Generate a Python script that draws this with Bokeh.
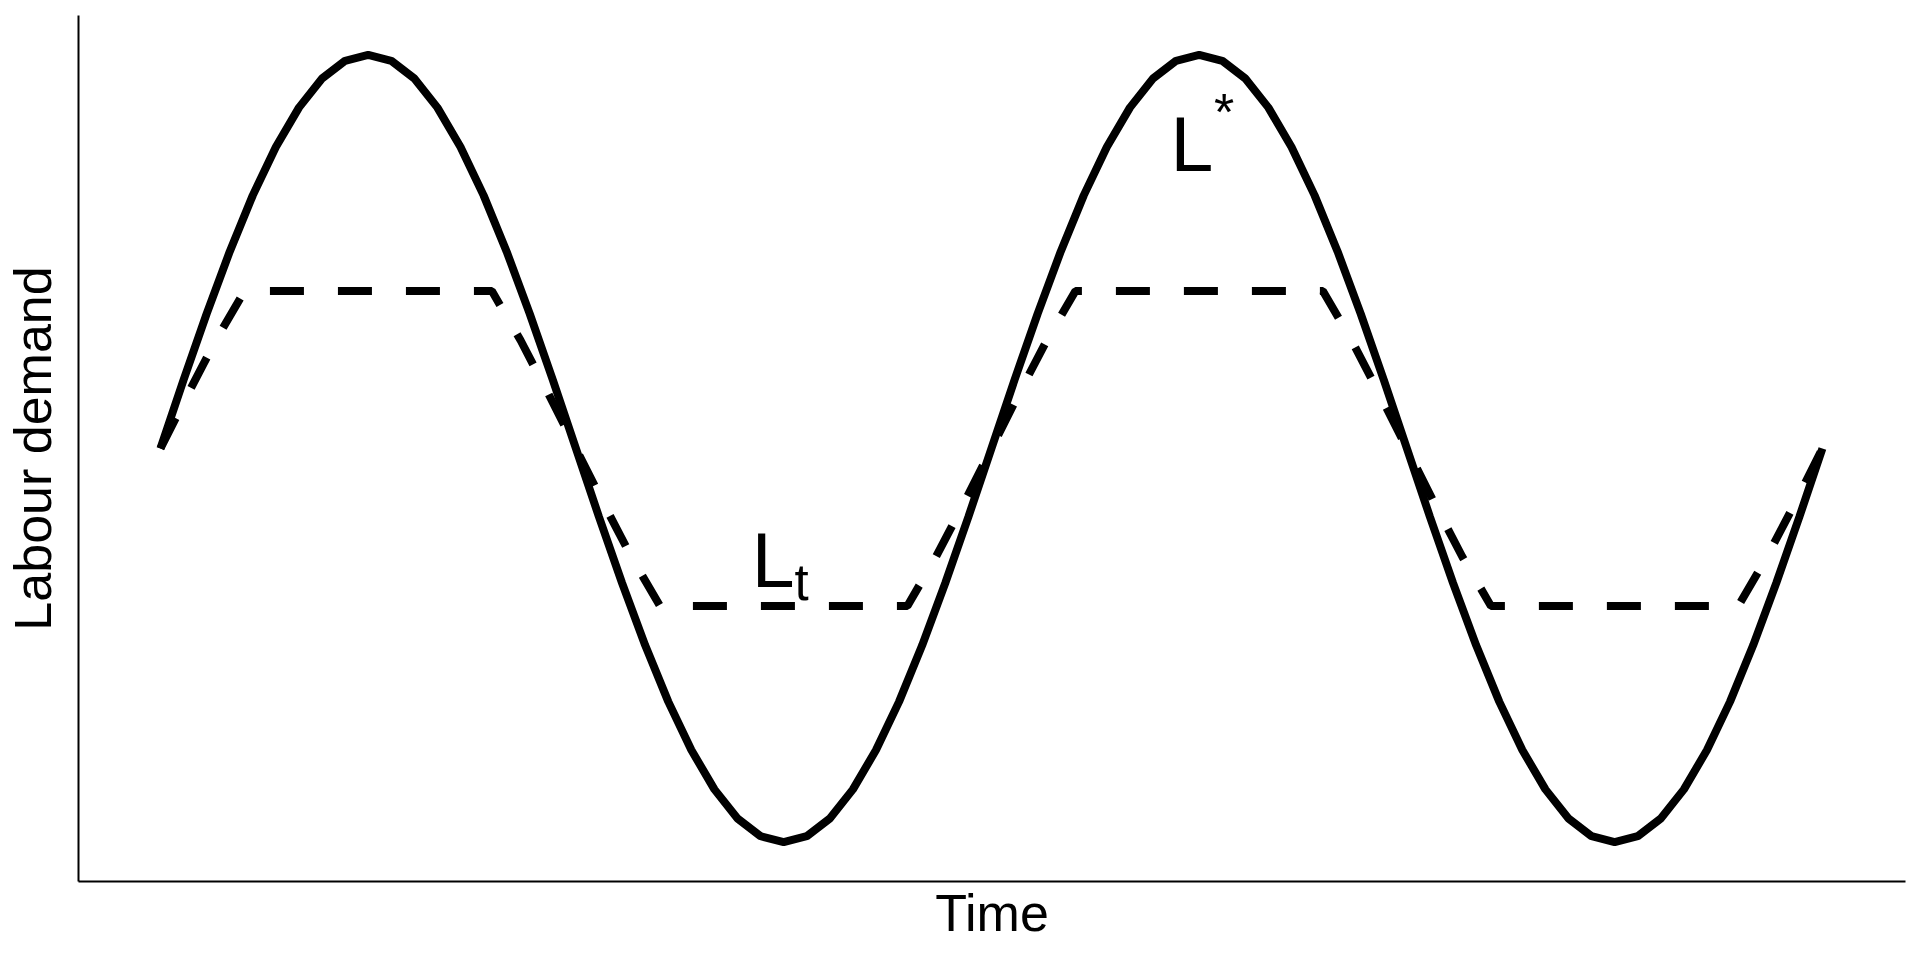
from bokeh.plotting import figure
from bokeh.embed import file_html
from bokeh.resources import INLINE
from bokeh.models import FixedTicker, Range1d
from bokeh.core.properties import value

# ---- data (time in degrees of the cycle, demand normalised) ----
time_solid = list(range(0, 721, 10))
lstar_vals = [
    0.0, 0.174, 0.342, 0.5, 0.643, 0.766, 0.866, 0.940, 0.985, 1.0,
    0.985, 0.940, 0.866, 0.766, 0.643, 0.5, 0.342, 0.174, 0.0,
    -0.174, -0.342, -0.5, -0.643, -0.766, -0.866, -0.940, -0.985, -1.0,
    -0.985, -0.940, -0.866, -0.766, -0.643, -0.5, -0.342, -0.174, 0.0,
    0.174, 0.342, 0.5, 0.643, 0.766, 0.866, 0.940, 0.985, 1.0,
    0.985, 0.940, 0.866, 0.766, 0.643, 0.5, 0.342, 0.174, 0.0,
    -0.174, -0.342, -0.5, -0.643, -0.766, -0.866, -0.940, -0.985, -1.0,
    -0.985, -0.940, -0.866, -0.766, -0.643, -0.5, -0.342, -0.174, 0.0,
]
time_dashed = [0, 12, 24, 36.4, 143.6, 156, 168, 180, 192, 204, 216.4, 323.6, 336, 348,
               360, 372, 384, 396.4, 503.6, 516, 528, 540, 552, 564, 576.4, 683.6, 696, 708, 720]
lt_vals = [0, 0.14, 0.275, 0.40, 0.40, 0.275, 0.14, 0, -0.14, -0.275, -0.40, -0.40, -0.275, -0.14,
           0, 0.14, 0.275, 0.40, 0.40, 0.275, 0.14, 0, -0.14, -0.275, -0.40, -0.40, -0.275, -0.14, 0]

x_label = "Time"
y_label = "Labour demand"

# label anchors (data units)
lstar_main = (437.6, 0.774)
lstar_sup = (456.4, 0.856)
lt_main = (256.2, -0.282)
lt_sub = (274.7, -0.340)

FONT = "Liberation Sans"

p = figure(width=1915, height=955, output_backend="svg", toolbar_location=None,
           x_range=Range1d(-35.5, 756), y_range=Range1d(-1.1, 1.1),
           min_border_left=78, min_border_top=15, min_border_right=10, min_border_bottom=74)
p.outline_line_color = None
p.grid.visible = False
p.background_fill_color = "white"
p.border_fill_color = "white"

for ax in (p.xaxis[0], p.yaxis[0]):
    ax.ticker = FixedTicker(ticks=[])
    ax.major_tick_out = 0
    ax.major_tick_in = 0
    ax.minor_tick_out = 0
    ax.minor_tick_in = 0
    ax.major_label_standoff = 0
    ax.axis_line_width = 2
    ax.axis_line_color = "black"
    ax.axis_label_text_font = FONT
    ax.axis_label_text_font_style = "normal"
    ax.axis_label_text_font_size = "52px"
    ax.axis_label_text_color = "black"

p.xaxis.axis_label = x_label
p.yaxis.axis_label = y_label
p.xaxis.axis_label_standoff = 2
p.yaxis.axis_label_standoff = 17

p.line(time_solid, lstar_vals, line_color="black", line_width=8)
p.line(time_dashed, lt_vals, line_color="black", line_width=8, line_dash="34 34")

def txt(pos, s, size):
    p.text(x=[pos[0]], y=[pos[1]], text=[s], text_font=value(FONT), text_font_size=size,
           text_align="left", text_baseline="alphabetic", text_color="black")

txt(lstar_main, "L", "77px")
txt(lstar_sup, "*", "52px")
txt(lt_main, "L", "77px")
txt(lt_sub, "t", "51px")

open("out.html", "w").write(file_html(p, INLINE))
